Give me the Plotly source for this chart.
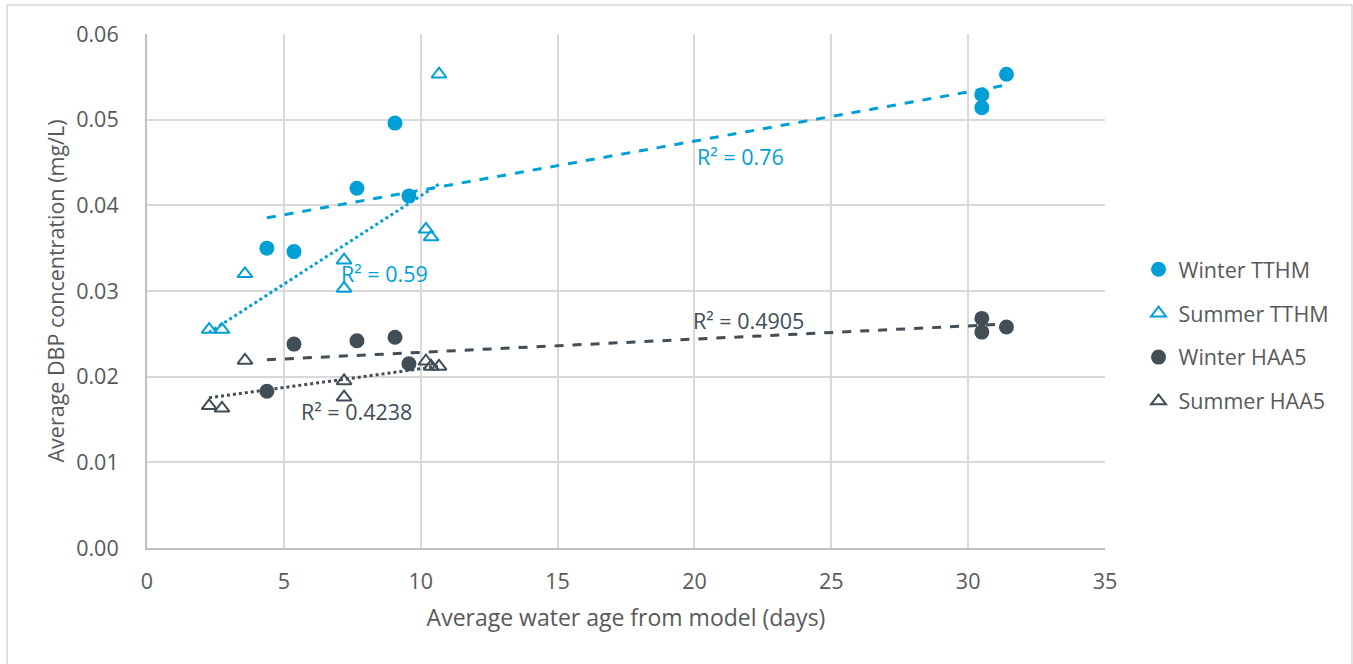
import numpy as np
import plotly.graph_objects as go

# ---- data ----
winter_x = [4.38, 5.37, 7.67, 9.06, 9.57, 30.5, 30.5, 31.4]
winter_tthm = [0.0350, 0.0346, 0.0420, 0.0496, 0.0411, 0.0529, 0.0514, 0.0553]
winter_haa5 = [0.0183, 0.0238, 0.0242, 0.0246, 0.0215, 0.0268, 0.0252, 0.0258]

summer_x = [2.27, 2.74, 3.58, 7.2, 7.2, 10.19, 10.38, 10.67]
summer_tthm = [0.0255, 0.0255, 0.0320, 0.0336, 0.0303, 0.0372, 0.0363, 0.0553]
summer_haa5 = [0.0166, 0.0163, 0.0219, 0.0195, 0.0176, 0.0218, 0.0212, 0.0212]

series_names = ["Winter TTHM", "Summer TTHM", "Winter HAA5", "Summer HAA5"]
r2_labels = ["R² = 0.76", "R² = 0.59", "R² = 0.4905", "R² = 0.4238"]
r2_pos = [(21.67, 0.0457), (8.66, 0.0321), (21.96, 0.0266), (7.67, 0.0159)]

BLUE = "#00A0D6"
GRAY = "#414D57"
TXT = "#595959"
FONT = "Open Sans"
SMALL = 21.5
BIG = 23

fig = go.Figure()

specs = [
    (winter_x, winter_tthm, BLUE, "circle", "dash"),
    (summer_x, summer_tthm, BLUE, "triangle-up-open", "dot"),
    (winter_x, winter_haa5, GRAY, "circle", "dash"),
    (summer_x, summer_haa5, GRAY, "triangle-up-open", "dot"),
]

# trendlines (least squares from the data)
for (xs, ys, col, sym, dash) in specs:
    xa = np.array(xs); ya = np.array(ys)
    k, b = np.polyfit(xa, ya, 1)
    xl = np.array([xa.min(), xa.max()])
    fig.add_trace(go.Scatter(x=xl, y=k * xl + b, mode="lines",
                             line=dict(color=col, width=3, dash=dash),
                             showlegend=False, hoverinfo="skip"))

for i, (xs, ys, col, sym, dash) in enumerate(specs):
    if sym == "circle":
        marker = dict(symbol=sym, size=15, color=col, line=dict(width=0))
    else:
        marker = dict(symbol=sym, size=13, color=col, line=dict(width=2, color=col))
    fig.add_trace(go.Scatter(x=xs, y=ys, mode="markers", name=series_names[i],
                             marker=marker, legendgroup=str(i)))

for i, (lab, (ax, ay)) in enumerate(zip(r2_labels, r2_pos)):
    fig.add_annotation(x=ax, y=ay, text=lab, showarrow=False,
                       font=dict(family=FONT, size=SMALL, color=specs[i][2]))

# outer chart border
fig.add_shape(type="rect", xref="paper", yref="paper",
              x0=-0.146, x1=1.2578, y0=-0.25, y1=1.0564,
              line=dict(color="#D9D9D9", width=1.5), layer="below")

fig.update_layout(
    width=1353, height=664,
    margin=dict(l=147, r=248, t=34, b=116),
    paper_bgcolor="white", plot_bgcolor="white",
    font=dict(family=FONT, size=SMALL, color=TXT),
    legend=dict(x=1.035, y=0.414, xanchor="left", yanchor="middle",
                font=dict(family=FONT, size=SMALL, color=TXT),
                tracegroupgap=13, bgcolor="rgba(0,0,0,0)"),
    xaxis=dict(range=[0, 35], dtick=5, showgrid=True, gridcolor="#D9D9D9",
               gridwidth=1.5, zeroline=False, showline=True,
               linecolor="#BFBFBF", linewidth=2, mirror=False,
               ticks="", ticklabelstandoff=13,
               tickfont=dict(family=FONT, size=SMALL, color=TXT),
               title=dict(text="Average water age from model (days)",
                          font=dict(family=FONT, size=BIG, color=TXT), standoff=16)),
    yaxis=dict(range=[0, 0.06], dtick=0.01, tickformat=".2f", showgrid=True,
               gridcolor="#D9D9D9", gridwidth=1.5, zeroline=False, showline=True,
               linecolor="#BFBFBF", linewidth=2,
               ticks="", ticklabelstandoff=22,
               tickfont=dict(family=FONT, size=SMALL, color=TXT),
               title=dict(text="Average DBP concentration (mg/L)",
                          font=dict(family=FONT, size=SMALL, color=TXT), standoff=6)),
)

fig.write_html("out.html")
